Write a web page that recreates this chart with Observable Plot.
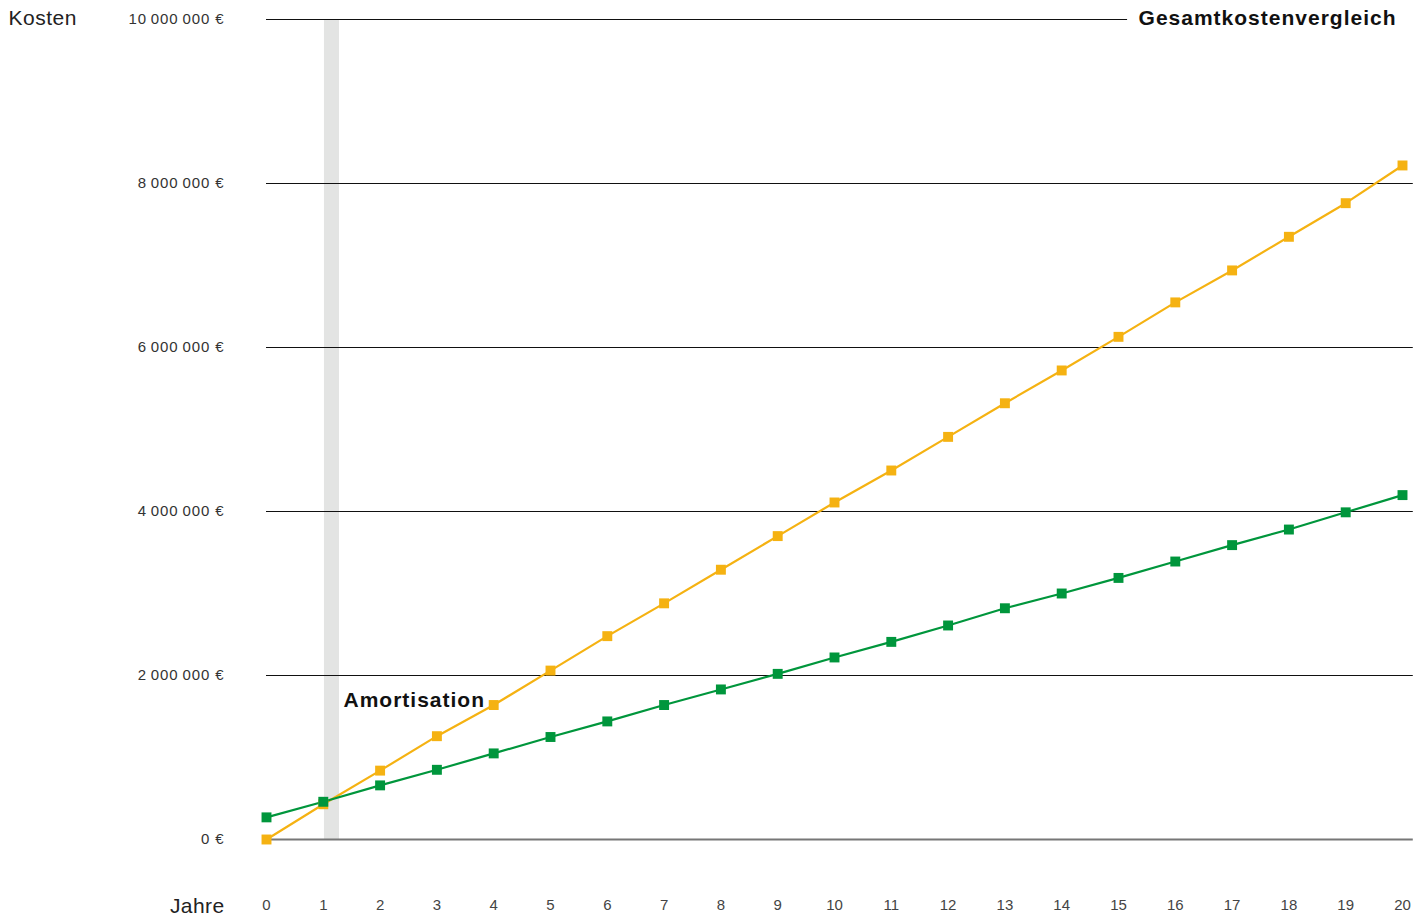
<!DOCTYPE html>
<html>
<head>
<meta charset="utf-8">
<script src="https://cdn.jsdelivr.net/npm/d3@7"></script>
<script src="https://cdn.jsdelivr.net/npm/@observablehq/plot@0.6"></script>
<style>
  html, body { margin: 0; padding: 0; background: #fff; }
  body { width: 1427px; height: 917px; overflow: hidden; font-family: "Liberation Sans", Arial, sans-serif; }
</style>
</head>
<body>
<div id="chart"></div>
<script>
const years = d3.range(0, 21);
const costOrange = [0, 0.43, 0.84, 1.26, 1.64, 2.06, 2.48, 2.88, 3.29, 3.70, 4.11, 4.50, 4.91, 5.32, 5.72, 6.13, 6.55, 6.94, 7.35, 7.76, 8.22].map(v => v * 1e6);
const costGreen = [0.27, 0.46, 0.66, 0.85, 1.05, 1.25, 1.44, 1.64, 1.83, 2.02, 2.22, 2.41, 2.61, 2.82, 3.00, 3.19, 3.39, 3.59, 3.78, 3.99, 4.20].map(v => v * 1e6);
const yTicks = [0, 2e6, 4e6, 6e6, 8e6, 10e6];
const amortBand = [1.02, 1.285];
const titleText = "Gesamtkostenvergleich";
const amortLabel = "Amortisation";

const orange = "#F5B212";
const green = "#00963C";

const dataO = years.map((y, i) => ({year: y, cost: costOrange[i]}));
const dataG = years.map((y, i) => ({year: y, cost: costGreen[i]}));
const fmt = v => d3.format(",")(v).replace(/,/g, "\u2009") + " €";

const chart = Plot.plot({
  width: 1427,
  height: 917,
  marginLeft: 266,
  marginRight: 25,
  marginTop: 19,
  marginBottom: 78,
  style: {fontFamily: "'Liberation Sans', Arial, sans-serif", background: "#fff"},
  x: {domain: [0, 20]},
  y: {domain: [0, 10e6]},
  marks: [
    Plot.rect([amortBand], {x1: d => d[0], x2: d => d[1], y1: 0, y2: 10e6, fill: "#e3e4e3"}),
    Plot.ruleY(yTicks.filter(t => t > 0), {x1: 0, x2: t => t === 10e6 ? 15.16 : 20.19, stroke: "#111", strokeWidth: 1}),
    Plot.ruleY([0], {x1: 0, x2: 20.19, stroke: "#777", strokeWidth: 1.8}),
    Plot.axisY({ticks: yTicks, tickFormat: fmt, tickSize: 0, tickPadding: 42, fontSize: 15, fill: "#333", label: null}),
    Plot.axisX({ticks: years, tickFormat: d => String(d), tickSize: 0, tickPadding: 60, fontSize: 15, fill: "#444", label: null}),
    Plot.line(dataO, {x: "year", y: "cost", stroke: orange, strokeWidth: 2.2}),
    Plot.line(dataG, {x: "year", y: "cost", stroke: green, strokeWidth: 2.2}),
    Plot.dot(dataO, {x: "year", y: "cost", symbol: "square", r: 5.6, fill: orange}),
    Plot.dot(dataG, {x: "year", y: "cost", symbol: "square", r: 5.6, fill: green}),
    Plot.text([titleText], {frameAnchor: "top-right", dx: -6, dy: -1, text: d => d, fontSize: 21, fontWeight: "bold", fill: "#111", textAnchor: "end", lineAnchor: "middle"}),
    Plot.text([amortLabel], {x: () => amortBand[1], y: () => 1.7e6, dx: 4, text: d => d, fontSize: 21, fontWeight: "bold", fill: "#111", textAnchor: "start"}),
    Plot.text(["Kosten"], {frameAnchor: "top-left", dx: -258, dy: -1, text: d => d, fontSize: 21, fill: "#222", textAnchor: "start", lineAnchor: "middle"}),
    Plot.text(["Jahre"], {frameAnchor: "bottom-left", dx: -42, dy: 67, text: d => d, fontSize: 21, fill: "#222", textAnchor: "end", lineAnchor: "middle"})
  ]
});
const spacing = {[titleText]: 1.0, [amortLabel]: 1.0, "Kosten": 0.5, "Jahre": 0.4};
d3.select(chart).selectAll("text").each(function() {
  const t = this.textContent;
  if (t in spacing) this.setAttribute("letter-spacing", spacing[t]);
  else if (t.includes("€")) this.setAttribute("letter-spacing", 0.9);
});
document.getElementById("chart").appendChild(chart);
</script>
</body>
</html>
